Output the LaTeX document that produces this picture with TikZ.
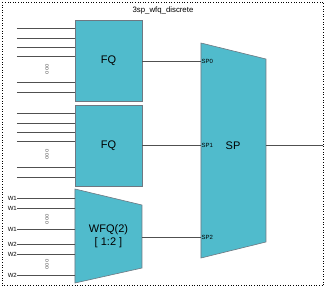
\documentclass[tikz,border=0pt]{standalone}
\usepackage{fontspec}
\setmainfont{Liberation Sans}
\usetikzlibrary{positioning}
\definecolor{QueueTeal}{RGB}{80,187,204}
\definecolor{QueueEdge}{RGB}{110,120,130}
\definecolor{WireGray}{RGB}{80,80,80}

\tikzset{
    queuebox/.style={draw=QueueEdge, fill=QueueTeal, line width=0.6pt, minimum width=67pt, minimum height=81pt, inner sep=0pt, font=\fontsize{11}{13}\selectfont},
    wire/.style={draw=WireGray, line width=0.7pt},
    portlabel/.style={anchor=west, inner sep=0.5pt, font=\fontsize{6}{7}\selectfont},
    dots/.style={rotate=90, text=gray!80!black, inner sep=0pt, font=\fontsize{6}{7}\selectfont}
}

\begin{document}
\begin{tikzpicture}[x=1pt, y=-1pt]
    \useasboundingbox (0,0) rectangle (325,287);

    % Frame and title
    \draw[dotted, line width=0.6pt] (2,2) rectangle (323.5,285.5);
    \node (title) at (163,10) {\fontsize{7.8}{9}\selectfont 3sp\_wfq\_discrete};

    % Flow queues
    \node[queuebox] (fqa) at (108.5,61) {FQ};
    \node[queuebox] (fqb) at (108.5,145.5) {FQ};

    % Weighted fair queue (trapezoid)
    \coordinate (wtl) at (75,189);
    \coordinate (wtr) at (142,205);
    \coordinate (wbr) at (142,268);
    \coordinate (wbl) at (75,283);
    \filldraw[draw=QueueEdge, fill=QueueTeal, line width=0.6pt] (wtl) -- (wtr) -- (wbr) -- (wbl) -- cycle;
    \node[align=center, font=\fontsize{11}{13}\selectfont] (wfq) at (108.5,236.5) {WFQ(2)\\{[} 1:2 {]}};
    \coordinate (wfqout) at (142,237);

    % Strict priority scheduler (trapezoid)
    \coordinate (stl) at (201,43);
    \coordinate (str) at (266,59);
    \coordinate (sbr) at (266,242);
    \coordinate (sbl) at (201,258);
    \filldraw[draw=QueueEdge, fill=QueueTeal, line width=0.6pt] (stl) -- (str) -- (sbr) -- (sbl) -- cycle;
    \node[font=\fontsize{11}{13}\selectfont] (sp) at (233,146) {SP};
    \coordinate (sp0) at (201,61);
    \coordinate (sp1) at (201,145);
    \coordinate (sp2) at (201,237);
    \coordinate (spout) at (266,145);
    \coordinate (out) at (323.5,145);
    \node[portlabel] (sp0l) at (sp0) {SP0};
    \node[portlabel] (sp1l) at (sp1) {SP1};
    \node[portlabel] (sp2l) at (sp2) {SP2};

    % Inputs of the flow queues
    \foreach \y in {28,38,47,56,82,92}
        \draw[wire] (17,\y) -- (fqa.west |- 0,\y);
    \foreach \y in {113,123,132,141,167,177}
        \draw[wire] (17,\y) -- (fqb.west |- 0,\y);
    \node[dots] (dota) at (47,69) {ooo};
    \node[dots] (dotb) at (47,154.5) {ooo};

    % Weighted inputs
    \foreach \y/\w in {198/W1,208/W1,229/W1,244/W2,254/W2,275/W2} {
        \node[portlabel, anchor=east, inner sep=0pt] at (17,\y) {\w};
        \draw[wire] (17,\y) -- (75,\y);
    }
    \node[dots] (dotc) at (47,219) {ooo};
    \node[dots] (dotd) at (47,264.5) {ooo};

    % Links to the scheduler
    \draw[wire] (fqa.east) -- (sp0);
    \draw[wire] (fqb.east |- sp1) -- (sp1);
    \draw[wire] (wfqout) -- (sp2);
    \draw[wire] (spout) -- (out);
\end{tikzpicture}
\end{document}
